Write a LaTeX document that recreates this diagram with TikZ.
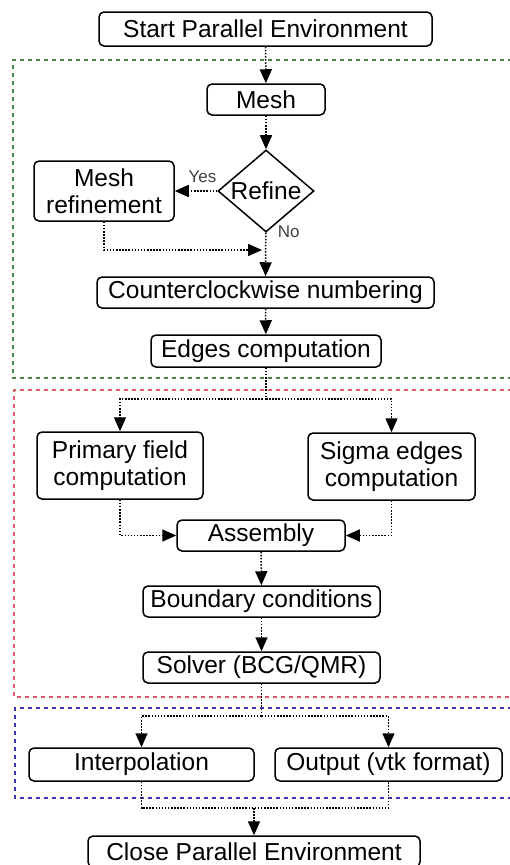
\documentclass[tikz,border=0pt]{standalone}
\usepackage{fontspec}
\setmainfont{Liberation Sans}
\usetikzlibrary{shapes.geometric,arrows.meta,positioning}
\tikzset{>={Triangle[length=14pt,width=12pt]}}
\definecolor{meshgreen}{RGB}{70,135,70}
\definecolor{solvered}{RGB}{220,90,110}
\definecolor{postblue}{RGB}{55,55,180}

\begin{document}
\begin{tikzpicture}[x=1pt,y=-1pt,
                    stepbox/.style={draw, line width=1.5pt, rounded corners=5pt, minimum height=31pt,
                                    inner sep=2pt, align=center, font=\fontsize{24.5}{27}\selectfont},
                    decision/.style={draw, diamond, line width=1.5pt, aspect=1.2, inner sep=0pt,
                                     minimum width=96pt, minimum height=82pt, font=\fontsize{24.5}{27}\selectfont},
                    flow/.style={line width=1.5pt, dash pattern=on 1.5pt off 1.6pt, ->},
                    link/.style={line width=1.5pt, dash pattern=on 1.5pt off 1.6pt},
                    frame/.style={line width=1.3pt, dash pattern=on 4pt off 4pt},
                    answer/.style={font=\fontsize{17}{19}\selectfont, text=black!75},
                   ]

\useasboundingbox (0,0) rectangle (510,865);

\draw[frame, meshgreen] (512,60) -- (13,60) -- (13,378) -- (512,378);
\draw[frame, solvered]  (512,390) -- (14,390) -- (14,697) -- (512,697);
\draw[frame, postblue]  (512,708) -- (15,708) -- (15,798) -- (512,798);

\node[stepbox, minimum width=333pt, minimum height=34pt] (start) at (265.5,29) {Start Parallel Environment};
\node[stepbox, minimum width=118pt] (mesh) at (266,99.5) {Mesh};
\node[decision] (refine) at (266,191) {Refine};
\node[stepbox, minimum width=140pt, minimum height=60pt] (meshref) at (104,191) {Mesh\\refinement};
\node[stepbox, minimum width=337pt] (ccw) at (265.5,292.5) {Counterclockwise numbering};
\node[stepbox, minimum width=230pt, minimum height=32pt] (edges) at (266,351) {Edges computation};

\node[stepbox, minimum width=166pt, minimum height=67pt] (primary) at (120,465.5) {Primary field\\computation};
\node[stepbox, minimum width=167pt, minimum height=67pt] (sigma) at (391.5,466.5) {Sigma edges\\computation};
\node[stepbox, minimum width=168pt] (assembly) at (261,535.5) {Assembly};
\node[stepbox, minimum width=237pt] (boundary) at (261.5,601.5) {Boundary conditions};
\node[stepbox, minimum width=237pt] (solver) at (261.5,667.5) {Solver (BCG/QMR)};

\node[stepbox, minimum width=225pt, minimum height=33pt] (interp) at (141.5,764.5) {Interpolation};
\node[stepbox, minimum width=227pt, minimum height=33pt] (output) at (388.5,764.5) {Output (vtk format)};
\node[stepbox, minimum width=332pt] (close) at (254,851.5) {Close Parallel Environment};

\coordinate (join1) at (262,250);
\coordinate (split1) at (266,399);
\coordinate (split2) at (261.5,716);
\coordinate (merge) at (254,808);

\draw[flow] (start) -- (mesh);
\draw[flow] (mesh) -- (refine);
\draw[flow] (refine) -- (meshref) node[answer, pos=0.35, above, yshift=4pt]{Yes};
\draw[flow] (refine) -- (ccw) node[answer, pos=0.05, right, xshift=8pt, yshift=3pt]{No};
\draw[flow] (meshref) |- (join1);
\draw[flow] (ccw) -- (edges);

\draw[link] (edges) -- (split1);
\draw[flow] (split1) -| (primary);
\draw[flow] (split1) -| (sigma);
\draw[flow] (primary) |- (assembly);
\draw[flow] (sigma) |- (assembly);
\draw[flow] (assembly) -- (boundary);
\draw[flow] (boundary) -- (solver);

\draw[link] (solver) -- (split2);
\draw[flow] (split2) -| (interp);
\draw[flow] (split2) -| (output);
\draw[link] (interp) |- (merge) -| (output);
\draw[flow] (merge) -- (close);

\end{tikzpicture}
\end{document}
